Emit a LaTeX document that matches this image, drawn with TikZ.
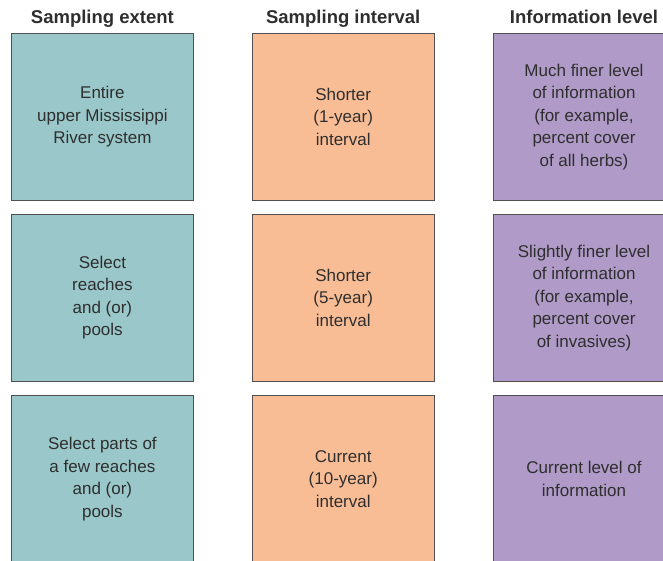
\documentclass[tikz,border=0pt]{standalone}
\usepackage{fontspec}
\setmainfont{Liberation Sans}
\usepackage{xcolor}
\usetikzlibrary{positioning}

\definecolor{extent}{HTML}{9AC7CA}
\definecolor{interval}{HTML}{F9BD96}
\definecolor{info}{HTML}{B09AC8}
\definecolor{frame}{HTML}{505050}
\definecolor{txt}{HTML}{2E2E2E}

\begin{document}
\begin{tikzpicture}[
  box/.style={draw=frame,line width=0.8pt,minimum width=182pt,minimum height=166.5pt,
    align=center,text=txt,inner sep=0pt,font=\fontsize{17}{22.5}\selectfont},
  head/.style={text=txt,inner sep=0pt,text height=13.5pt,text depth=4pt,
    font=\fontsize{18.5}{20}\selectfont\bfseries},
  node distance=13.8pt and 58pt]
  \useasboundingbox (0,0) rectangle (663pt,-560pt);

  % sampling extent
  \node[box,fill=extent,anchor=north west] (ext1) at (11pt,-33pt) {Entire\\upper Mississippi\\River system};
  \node[box,fill=extent,below=of ext1] (ext2) {Select\\reaches\\and (or)\\pools};
  \node[box,fill=extent,below=of ext2] (ext3) {Select parts of\\a few reaches\\and (or)\\pools};

  % sampling interval
  \node[box,fill=interval,right=of ext1] (int1) {Shorter\\(1-year)\\interval};
  \node[box,fill=interval,below=of int1] (int2) {Shorter\\(5-year)\\interval};
  \node[box,fill=interval,below=of int2] (int3) {Current\\(10-year)\\interval};

  % information level
  \node[box,fill=info,right=of int1] (info1) {Much finer level\\of information\\(for example,\\percent cover\\of all herbs)};
  \node[box,fill=info,below=of info1] (info2) {Slightly finer level\\of information\\(for example,\\percent cover\\of invasives)};
  \node[box,fill=info,below=of info2] (info3) {Current level of\\information};

  % column heads
  \node[head,above=5pt of ext1] (hext) {Sampling extent};
  \node[head,above=5pt of int1] (hint) {Sampling interval};
  \node[head,above=5pt of info1] (hinfo) {Information level};
\end{tikzpicture}
\end{document}
